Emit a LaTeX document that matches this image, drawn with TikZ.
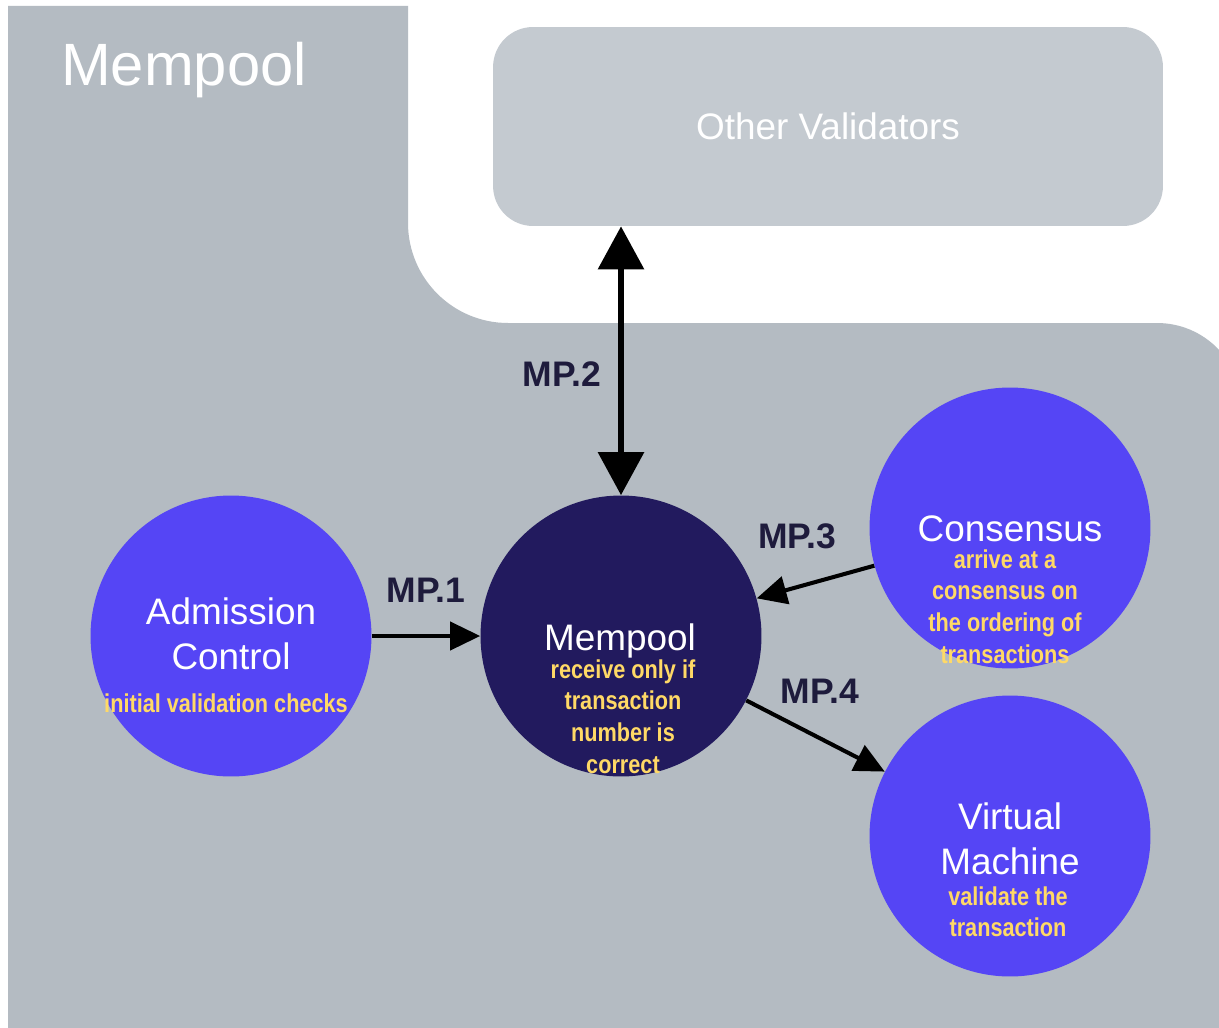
\documentclass[tikz,border=0pt]{standalone}
\usepackage{fontspec}
\setmainfont{Liberation Sans}
\newfontfamily\narrowfont[FakeStretch=0.84]{Liberation Sans}
\usetikzlibrary{arrows.meta,positioning,calc}

\definecolor{poolgray}{HTML}{B4BBC2}
\definecolor{boxgray}{HTML}{C4CAD0}
\definecolor{compblue}{HTML}{5545F5}
\definecolor{pooldark}{HTML}{221A5E}
\definecolor{notegold}{HTML}{FFD966}
\definecolor{labelink}{HTML}{1E1B3C}

\tikzset{
	comp/.style={circle, fill=compblue, minimum size=5.62cm, inner sep=0pt},
	compname/.style={text=white, align=center, inner sep=0pt, anchor=north, font=\fontsize{21}{26}\selectfont},
	compnote/.style={text=notegold, align=center, inner sep=0pt, anchor=north, font=\narrowfont\bfseries\fontsize{14.7}{18.1}\selectfont},
	mplabel/.style={text=labelink, inner sep=0pt, font=\bfseries\fontsize{20.2}{22}\selectfont},
	flow/.style={line width=2.3pt, -{Triangle[length=0.6cm,width=0.56cm]}},
}

\begin{document}
\begin{tikzpicture}[x=0.02cm, y=-0.02cm]
	\useasboundingbox (0,0) rectangle (1219,1027);
	\fill[white] (0,0) rectangle (1219,1027);
	\clip (0,0) rectangle (1219,1027);
	% mempool area
	\fill[poolgray] (8,1040) -- (8,6) -- (408,6) -- (408,223)
		arc[start angle=180, end angle=90, radius=100] -- (1157,323)
		arc[start angle=270, end angle=360, radius=85] -- (1242,1040) -- cycle;
	\node[text=white, anchor=north, inner sep=0pt, font=\fontsize{34}{40}\selectfont] (title) at (184,42) {Mempool};
	% other validators
	\node[fill=boxgray, rounded corners=0.8cm, minimum width=13.4cm, minimum height=3.98cm, text=white, font=\fontsize{21}{26}\selectfont] (ov) at (828,126.5) {Other Validators};
	% components
	\node[comp] (ac) at (231,636) {};
	\node[comp, fill=pooldark] (mp) at (621,636) {};
	\node[comp] (cs) at (1010,528) {};
	\node[comp] (vm) at (1010,836) {};
	\node[compname] (ac-name) at (231,597) {Admission\\Control};
	\node[compnote] (ac-note) at (226,693) {initial validation checks};
	\node[compname] (mp-name) at (620,623) {Mempool};
	\node[compnote] (mp-note) at (623,659) {receive only if\\transaction\\number is\\correct};
	\node[compname] (cs-name) at (1010,515) {Consensus};
	\node[compnote] (cs-note) at (1005,549) {arrive at a\\consensus on\\the ordering of\\transactions};
	\node[compname] (vm-name) at (1010,802) {Virtual\\Machine};
	\node[compnote] (vm-note) at (1008,886) {validate the\\transaction};
	% flows
	\path[flow]
	(ac) edge node [mplabel, above=0.62cm] {MP.1} (mp)
	(cs) edge node [mplabel, above=0.72cm, pos=0.655] {MP.3} (mp)
	(mp) edge node [mplabel, above=0.66cm, pos=0.53] {MP.4} (vm)
	;
	\path[flow, line width=3.4pt, {Triangle[length=0.86cm,width=0.9cm]}-{Triangle[length=0.86cm,width=0.9cm]}]
	(mp.north) edge node [mplabel, left=0.34cm, pos=0.45] {MP.2} (mp.north |- ov.south)
	;
\end{tikzpicture}
\end{document}
